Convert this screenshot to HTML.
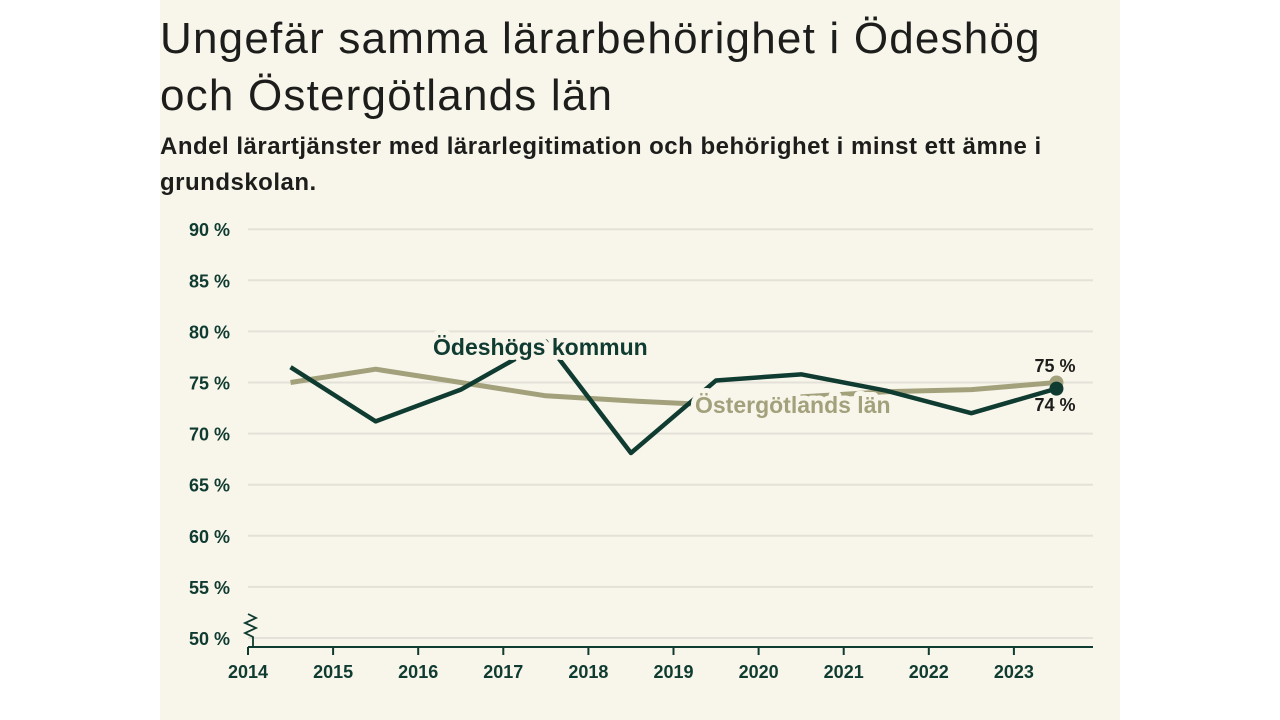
<!DOCTYPE html>
<html><head><meta charset="utf-8"><style>
body{margin:0;width:1280px;height:720px;background:#fff;overflow:hidden;font-family:"Liberation Sans",sans-serif}
#panel{position:absolute;left:160px;top:0;width:960px;height:720px;background:#f8f6eb}
h1{position:absolute;left:160px;top:10px;margin:0;font-size:44px;line-height:57px;font-weight:normal;color:#1d1d1b;width:960px;letter-spacing:1.2px}
#sub{position:absolute;left:160px;top:129px;margin:0;font-size:24px;line-height:36px;font-weight:bold;color:#1d1d1b;width:960px;letter-spacing:0.5px}
svg{position:absolute;left:0;top:0}
</style></head><body>
<div id="panel"></div>
<h1>Ungefär samma lärarbehörighet i Ödeshög<br>och Östergötlands län</h1>
<p id="sub">Andel lärartjänster med lärarlegitimation och behörighet i minst ett ämne i<br>grundskolan.</p>
<svg id="chart" width="1280" height="720"></svg>
<script>
const years=[2014,2015,2016,2017,2018,2019,2020,2021,2022,2023];
const yTicks=[50,55,60,65,70,75,80,85,90];
const odeshog=[76.5,71.2,74.3,79.0,68.1,75.2,75.8,74.2,72.0,74.4];
const lan=[75.0,76.3,75.0,73.7,73.2,72.8,73.6,74.1,74.3,75.0];
const NS="http://www.w3.org/2000/svg";
const svg=document.getElementById('chart');
const x=v=>248+(v-2014)*85.1;
const y=v=>638-(v-50)*10.22;
function el(t,a,p){const e=document.createElementNS(NS,t);for(const k in a)e.setAttribute(k,a[k]);(p||svg).appendChild(e);return e;}
const ink="#0f3b31", olive="#a3a17c", bg="#f8f6eb";
yTicks.forEach(v=>{
 const g=el('line',{x1:248,x2:1093,y1:y(v),y2:y(v),stroke:'#e4e2d8','stroke-width':2});
 
 
 const t=el('text',{x:230,y:y(v)+7,'text-anchor':'end','font-size':18,'font-weight':'bold',fill:ink});
 t.textContent=v+' %';
 
 
});
const ax=el('line',{x1:248,x2:1093,y1:647,y2:647,stroke:ink,'stroke-width':2});


years.forEach(v=>{
 const tk=el('line',{x1:x(v),x2:x(v),y1:647,y2:655,stroke:ink,'stroke-width':2});
 
 
 const t=el('text',{x:x(v),y:678,'text-anchor':'middle','font-size':18,'font-weight':'bold',fill:ink});
 t.textContent=v;
 
 
});
const br=el('path',{d:'M248 614 l8 4 l-11 5 l11 5 l-11 5 l8 4 v10',fill:'none',stroke:ink,'stroke-width':1.8});


function pts(arr){return arr.map((v,i)=>x(years[i]+0.5)+','+y(v)).join(' ');}
const l1=el('polyline',{points:pts(lan),fill:'none',stroke:olive,'stroke-width':5,'stroke-linejoin':'round'});


const l2=el('polyline',{points:pts(odeshog),fill:'none',stroke:ink,'stroke-width':4.5,'stroke-linejoin':'round'});


const n=years.length-1;
const d1=el('circle',{cx:x(years[n]+0.5),cy:y(lan[n]),r:7,fill:olive});


const d2=el('circle',{cx:x(years[n]+0.5),cy:y(odeshog[n]),r:7,fill:ink});


function label(txt,xx,yy,col,name){
 const t=el('text',{x:xx,y:yy,'font-size':23,'font-weight':'bold',fill:col,stroke:bg,'stroke-width':10,'paint-order':'stroke','stroke-linejoin':'round'});
 t.textContent=txt;
 
 
}
label('Ödeshögs kommun',433,355,ink,'label-odeshogs-kommun');
label('Östergötlands län',695,413,olive,'label-ostergotlands-lan');
const v1=el('text',{x:1055,y:372,'text-anchor':'middle','font-size':18,'font-weight':'bold',fill:'#1d1d1b'});
v1.textContent=Math.round(lan[n])+' %';


const v2=el('text',{x:1055,y:411,'text-anchor':'middle','font-size':18,'font-weight':'bold',fill:'#1d1d1b'});
v2.textContent=Math.round(odeshog[n])+' %';


</script>
</body></html>
